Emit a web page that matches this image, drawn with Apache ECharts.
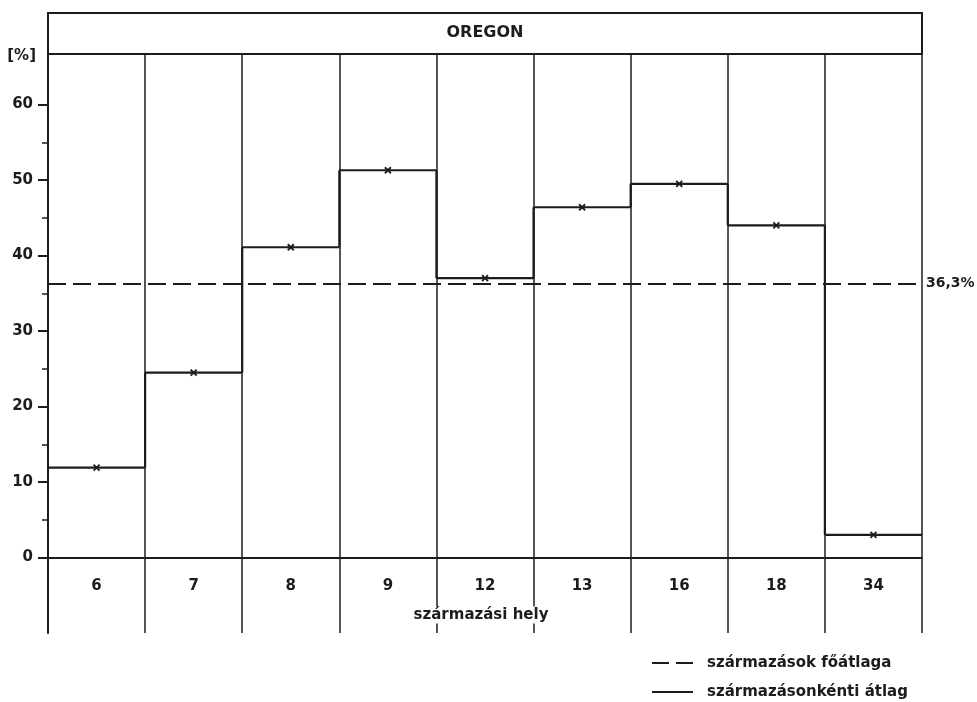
<!DOCTYPE html>
<html>
<head>
<meta charset="utf-8">
<script src="https://cdn.jsdelivr.net/npm/echarts@6/dist/echarts.min.js"></script>
<style>
  html, body { margin: 0; padding: 0; background: #fff; }
  #chart { width: 977px; height: 702px; }
</style>
</head>
<body>
<div id="chart"></div>
<script>
// Origin sites (származási hely) and the mean value for each origin, in percent
const sites = ['6', '7', '8', '9', '12', '13', '16', '18', '34'];
const siteMeans = [11.9, 24.5, 41.1, 51.3, 37.0, 46.4, 49.5, 44.0, 3.0];

// Grand mean over all origins
const grandMean = 36.3;
const grandMeanLabel = '36,3%';

// Value-axis ticks
const majorTicks = [0, 10, 20, 30, 40, 50, 60];
const minorTicks = [5, 15, 25, 35, 45, 55];

// Texts
const regionName = 'OREGON';
const unitName = '[%]';
const categoryName = 'származási hely';
const legendNames = ['származások főátlaga', 'származásonkénti átlag'];

// ---- drawing ----
const INK = '#1c1c1c';
const FONT = '"DejaVu Sans", sans-serif';
const GRID = { left: 48, right: 55, top: 54, bottom: 69 };
const W = 977;

const chart = echarts.init(document.getElementById('chart'), null, { renderer: 'canvas' });

const textFont = (size) => ({ fontFamily: FONT, fontSize: size, fontWeight: 'bold', color: INK });

const option = {
  animation: false,
  backgroundColor: '#fff',
  textStyle: { fontFamily: FONT },
  grid: GRID,
  xAxis: {
    type: 'category',
    data: sites,
    boundaryGap: true,
    axisLine: { onZero: true, lineStyle: { color: INK, width: 2 } },
    axisTick: { show: false },
    // the labels sit in the band just below the zero line
    axisLabel: Object.assign({ margin: -54 }, textFont(15)),
    splitLine: { show: true, lineStyle: { color: INK, width: 1.5 } }
  },
  yAxis: [
    {
      type: 'value',
      min: -10,
      max: 66.7,
      interval: 10,
      name: unitName,
      nameLocation: 'end',
      nameGap: -2,
      nameTextStyle: Object.assign({ align: 'right', verticalAlign: 'middle', padding: [0, 12, 0, 0] }, textFont(15)),
      axisLine: { show: true, lineStyle: { color: INK, width: 2 } },
      axisTick: { show: true, length: 10, customValues: majorTicks, lineStyle: { color: INK, width: 2 } },
      axisLabel: Object.assign({ customValues: majorTicks, margin: 15 }, textFont(15)),
      splitLine: { show: false }
    },
    {
      // minor ticks every 5 %
      type: 'value',
      min: -10,
      max: 66.7,
      interval: 10,
      position: 'left',
      axisLine: { show: false },
      axisTick: { show: true, length: 6, customValues: minorTicks, lineStyle: { color: INK, width: 1.5 } },
      axisLabel: { show: false },
      splitLine: { show: false }
    }
  ],
  series: [
    {
      type: 'custom',
      name: legendNames[1],
      data: siteMeans.map((v, i) => [i, v]),
      encode: { x: 0, y: 1 },
      renderItem(params, api) {
        const i = params.dataIndex;
        const p = api.coord([api.value(0), api.value(1)]);
        const half = api.size([1, 0])[0] / 2;
        const style = { stroke: INK, lineWidth: 2.2, fill: null };
        const kids = [
          { type: 'line', shape: { x1: p[0] - half, y1: p[1], x2: p[0] + half, y2: p[1] }, style }
        ];
        if (i + 1 < siteMeans.length) {
          const q = api.coord([i + 1, siteMeans[i + 1]]);
          kids.push({ type: 'line', shape: { x1: p[0] + half, y1: p[1], x2: p[0] + half, y2: q[1] }, style });
        }
        const m = 3;
        const mark = { stroke: INK, lineWidth: 1.8, fill: null };
        kids.push({ type: 'line', shape: { x1: p[0] - m, y1: p[1] - m, x2: p[0] + m, y2: p[1] + m }, style: mark });
        kids.push({ type: 'line', shape: { x1: p[0] - m, y1: p[1] + m, x2: p[0] + m, y2: p[1] - m }, style: mark });
        return { type: 'group', children: kids };
      },
      markLine: {
        silent: true,
        symbol: ['none', 'none'],
        data: [{ yAxis: grandMean, name: legendNames[0] }],
        lineStyle: { type: [18, 7], color: INK, width: 2 },
        label: Object.assign({ show: true, position: 'end', distance: 4, formatter: grandMeanLabel }, textFont(14))
      },
      z: 5
    }
  ],
  graphic: [
    // header box with the region name
    {
      type: 'rect',
      shape: { x: GRID.left, y: 13, width: W - GRID.left - GRID.right, height: GRID.top - 13 },
      style: { fill: 'none', stroke: INK, lineWidth: 2 },
      z: 10
    },
    {
      type: 'text',
      x: GRID.left + (W - GRID.left - GRID.right) / 2,
      y: 33,
      style: { text: regionName, font: 'bold 16px ' + FONT, fill: INK, align: 'center', verticalAlign: 'middle' },
      z: 10
    },
    // category axis title, breaking the column lines behind it
    {
      type: 'text',
      x: GRID.left + (W - GRID.left - GRID.right) / 2 - 4,
      y: 615,
      style: {
        text: categoryName, font: 'bold 15px ' + FONT, fill: INK, align: 'center', verticalAlign: 'middle',
        backgroundColor: '#fff', padding: [1, 3]
      },
      z: 10
    },
    // legend
    {
      type: 'line',
      shape: { x1: 652, y1: 663, x2: 693, y2: 663 },
      style: { stroke: INK, lineWidth: 2, lineDash: [17, 7] },
      z: 10
    },
    {
      type: 'text', x: 707, y: 663,
      style: { text: legendNames[0], font: 'bold 15px ' + FONT, fill: INK, align: 'left', verticalAlign: 'middle' },
      z: 10
    },
    {
      type: 'line',
      shape: { x1: 652, y1: 692, x2: 693, y2: 692 },
      style: { stroke: INK, lineWidth: 2 },
      z: 10
    },
    {
      type: 'text', x: 707, y: 692,
      style: { text: legendNames[1], font: 'bold 15px ' + FONT, fill: INK, align: 'left', verticalAlign: 'middle' },
      z: 10
    }
  ]
};

chart.setOption(option);
</script>
</body>
</html>
